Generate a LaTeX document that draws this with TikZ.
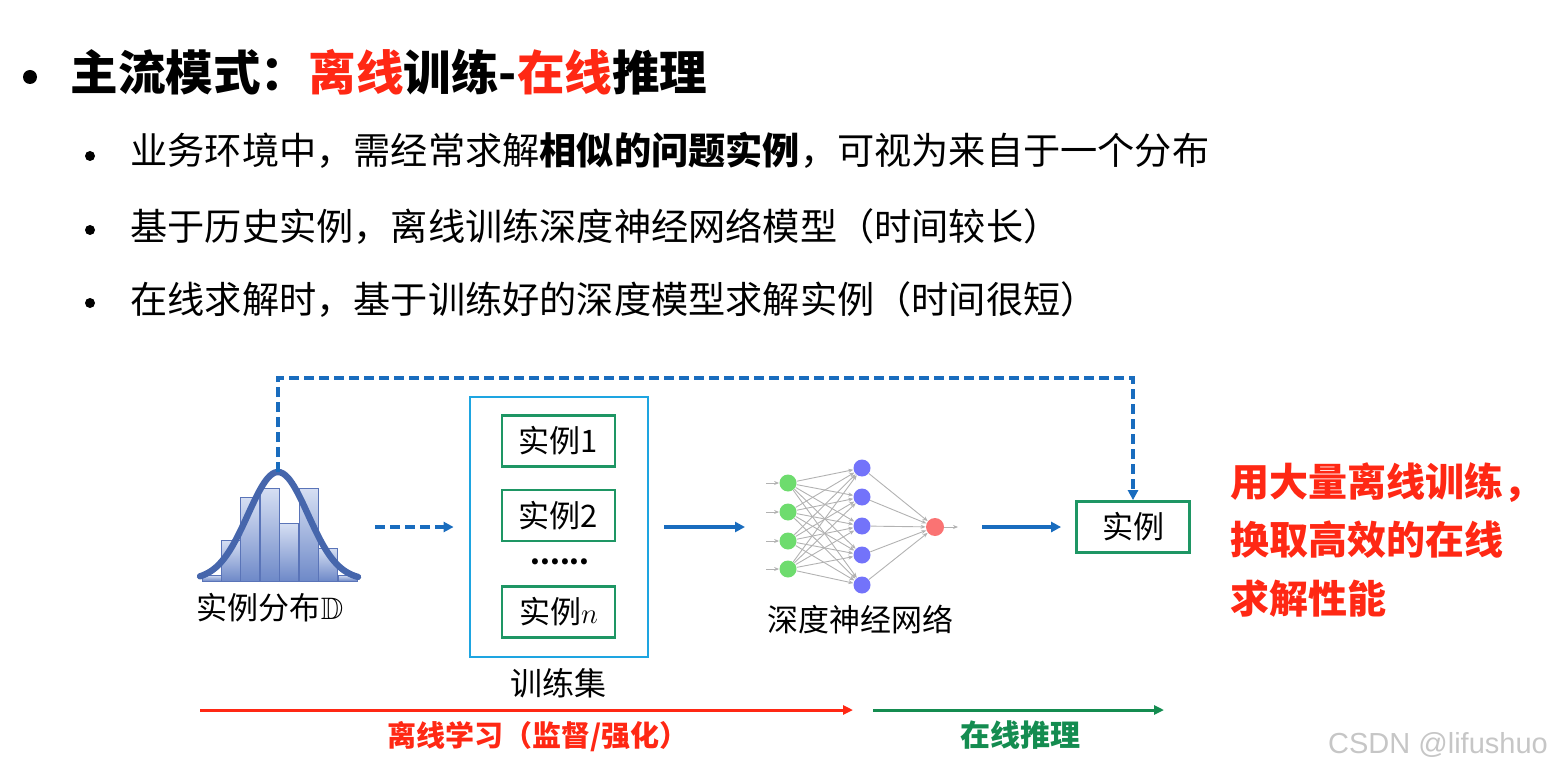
\documentclass[tikz,border=0pt]{standalone}
\usepackage{fontspec}
\usepackage{amssymb}
\setmainfont{Noto Sans CJK SC}
\newfontfamily\markfont{Liberation Sans}
\usetikzlibrary{arrows.meta,positioning}

\definecolor{lineblue}{RGB}{25,108,190}
\definecolor{setcyan}{RGB}{30,165,225}
\definecolor{boxgreen}{RGB}{30,150,100}
\definecolor{hotred}{RGB}{255,40,20}
\definecolor{textgreen}{RGB}{20,140,80}
\definecolor{histline}{RGB}{90,116,184}
\definecolor{histlight}{RGB}{214,223,243}
\definecolor{histdark}{RGB}{110,137,200}
\definecolor{curveblue}{RGB}{70,102,172}
\definecolor{ingreen}{RGB}{110,220,110}
\definecolor{hidblue}{RGB}{115,115,250}
\definecolor{outred}{RGB}{250,115,115}

\begin{document}
\begin{tikzpicture}[
    x=0.5pt, y=-0.5pt,
    >={Triangle[length=5pt,width=5pt]},
    every node/.style={inner sep=0pt},
    bullettext/.style={anchor=west, font=\fontsize{18.6}{22}\selectfont},
    instbox/.style={
        draw=boxgreen,
        line width=1.4pt,
        minimum width=56.5pt,
        minimum height=25.5pt,
        font=\fontsize{15.5}{17}\selectfont
    },
    label/.style={font=\fontsize{15.5}{18}\selectfont},
    arr/.style={->, lineblue, line width=1.7pt},
    dasharr/.style={arr, line width=1.9pt, dash pattern=on 5pt off 2.5pt},
    neuron/.style={circle, minimum size=#1},
    edge/.style={-{Stealth[length=2.5pt,width=2pt]}, gray!60, line width=0.45pt}
]
    \useasboundingbox (0,0) rectangle (1551,775);

    % Title and bullets
    \fill (30,77) circle[radius=3.5pt];
    \node[anchor=west, font=\fontsize{23.8}{28}\selectfont\bfseries] (title) at (70,72)
        {主流模式：\textcolor{hotred}{离线}训练-\textcolor{hotred}{在线}推理};

    \fill (90,156) circle[radius=2.5pt];
    \node[bullettext] (b1) at (130,150)
        {业务环境中，需经常求解\textbf{相似的问题实例}，可视为来自于一个分布};
    \fill (90,230) circle[radius=2.5pt];
    \node[bullettext] (b2) at (130,227)
        {基于历史实例，离线训练深度神经网络模型（时间较长）};
    \fill (90,303) circle[radius=2.5pt];
    \node[bullettext] (b3) at (130,300)
        {在线求解时，基于训练好的深度模型求解实例（时间很短）};

    % Instance distribution (histogram + bell curve)
    \foreach \l/\t in {202/575, 221/540, 240/497, 260/488,
                       279/523, 299/488, 318/548, 338/575}
        \shade[top color=histlight, bottom color=histdark, draw=histline, line width=0.5pt]
            (\l,\t) rectangle (\l+19.3,581);
    \draw[curveblue, line width=3.2pt, line cap=round]
        plot[domain=200:358, samples=60, smooth]
        (\x, {580-108*exp(-((\x-278)/30)^2/2)});
    \coordinate (peak) at (278,472);
    \coordinate (histR) at (375,527);
    \node[label] (distlabel) at (270,608) {实例分布$\mathbb{D}$};

    % Training set
    \node[draw=setcyan, line width=1.4pt, minimum width=89pt, minimum height=130pt]
        (trainset) at (559,527) {};
    \node[instbox] (inst1) at (558.5,441) {实例1};
    \node[instbox] (inst2) at (558.5,515.5) {实例2};
    \node[font=\fontsize{14}{16}\selectfont\bfseries] (dots) at (560,562) {......};
    \node[instbox] (instn) at (558.5,612) {实例$n$};
    \node[label, font=\fontsize{16}{18}\selectfont] (setlabel) at (558,683) {训练集};

    \draw[dasharr, shorten >=7.5pt] (histR) -- (trainset.west);

    % Deep neural network
    \foreach \i/\y in {1/483, 2/512, 3/541, 4/569}
        \node[neuron=8.5pt, fill=ingreen] (in\i) at (788,\y) {};
    \foreach \j/\y in {1/468, 2/497, 3/526, 4/555, 5/585}
        \node[neuron=8.5pt, fill=hidblue] (h\j) at (862,\y) {};
    \node[neuron=9pt, fill=outred] (out) at (935,527) {};

    \foreach \i in {1,...,4}
        \foreach \j in {1,...,5}
            \draw[edge] (in\i) -- (h\j);
    \foreach \j in {1,...,5}
        \draw[edge] (h\j) -- (out);
    \foreach \i/\y in {1/483, 2/512, 3/541, 4/569} {
        \coordinate (x\i) at (766,\y);
        \draw[edge] (x\i) -- (in\i);
    }
    \coordinate (y) at (958,527);
    \draw[edge] (out) -- (y);
    \node[label] (netlabel) at (860,620) {深度神经网络};

    \coordinate (netin) at (745,527);
    \draw[arr, shorten <=7.5pt] (trainset.east) -- (netin);

    % Online instance
    \node[instbox] (inst) at (1133,527) {实例};
    \coordinate (netout) at (982,527);
    \draw[arr, shorten >=7pt] (netout) -- (inst.west);
    \draw[dasharr] (peak) -- ++(0,-94) -| (inst.north);

    % Conclusion
    \node[anchor=north west, align=left, text=hotred,
          font=\fontsize{19.5}{29.2}\selectfont\bfseries] (concl) at (1230,462)
        {用大量离线训练，\\换取高效的在线\\求解性能};

    % Timeline
    \coordinate (offA) at (200,710);
    \coordinate (offB) at (853,710);
    \coordinate (onA) at (873,710);
    \coordinate (onB) at (1164,710);
    \draw[-{Triangle[length=5pt,width=4.5pt]}, hotred, line width=1.5pt] (offA) -- (offB);
    \draw[-{Triangle[length=5pt,width=4.5pt]}, textgreen, line width=1.5pt] (onA) -- (onB);
    \node[text=hotred, font=\fontsize{14.5}{17}\selectfont\bfseries] (offlabel) at (538,737)
        {离线学习（监督/强化）};
    \node[text=textgreen, font=\fontsize{15}{17}\selectfont\bfseries] (onlabel) at (1020,735)
        {在线推理};

    % Watermark
    \node[text=gray!45, font=\markfont\fontsize{14.5}{16}\selectfont] (mark) at (1438,745)
        {CSDN @lifushuo};
\end{tikzpicture}
\end{document}
